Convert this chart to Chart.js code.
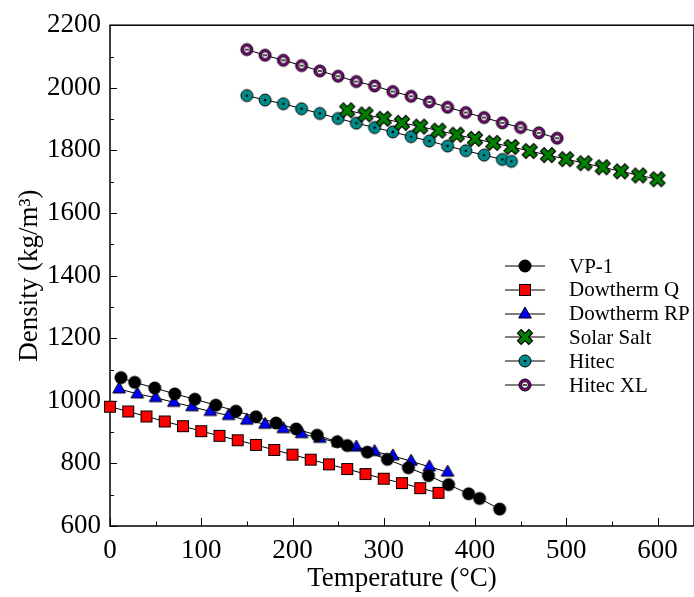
<!DOCTYPE html>
<html>
<head>
<meta charset="utf-8">
<script src="https://cdn.jsdelivr.net/npm/chart.js@4/dist/chart.umd.min.js"></script>
<style>
html, body { margin: 0; padding: 0; background: #fff; }
</style>
</head>
<body>
<canvas id="chart" width="694" height="597"></canvas>
<script>
// values
const vp1Temp = [12, 27, 49, 71, 93, 116, 138, 160, 182, 204, 227, 249, 260, 282, 304, 327, 349, 371, 393, 405, 427];
const vp1Dens = [1074, 1059, 1041, 1022, 1005, 986, 967, 949, 929, 910, 890, 869, 857, 836, 813, 786, 761, 732, 703, 688, 654];

const dowQTemp = [0, 20, 40, 60, 80, 100, 120, 140, 160, 180, 200, 220, 240, 260, 280, 300, 320, 340, 360];
const dowQDens = [981, 966, 950, 934, 919, 903, 888, 874, 859, 843, 828, 812, 797, 782, 766, 751, 737, 721, 706];

const dowRPTemp = [10, 30, 50, 70, 90, 110, 130, 150, 170, 190, 210, 230, 250, 270, 290, 310, 330, 350, 370];
const dowRPDens = [1038, 1022, 1010, 995, 981, 966, 953, 938, 925, 911, 895, 880, 867, 852, 838, 824, 807, 789, 772];

const solarTemp = [260, 280, 300, 320, 340, 360, 380, 400, 420, 440, 460, 480, 500, 520, 540, 560, 580, 600];
const solarDens = [1928, 1915, 1901, 1888, 1876, 1863, 1850, 1837, 1824, 1811, 1798, 1785, 1772, 1759, 1746, 1733, 1720, 1708];

const hitecTemp = [150, 170, 190, 210, 230, 250, 270, 290, 310, 330, 350, 370, 390, 410, 430, 440];
const hitecDens = [1975, 1961, 1949, 1933, 1918, 1902, 1887, 1873, 1859, 1844, 1830, 1814, 1799, 1785, 1771, 1765];

const hitecXLTemp = [150, 170, 190, 210, 230, 250, 270, 290, 310, 330, 350, 370, 390, 410, 430, 450, 470, 490];
const hitecXLDens = [2122, 2104, 2088, 2071, 2054, 2037, 2020, 2006, 1988, 1973, 1955, 1938, 1921, 1905, 1888, 1873, 1856, 1839];

const xTickValues = [0, 100, 200, 300, 400, 500, 600];
const yTickValues = [600, 800, 1000, 1200, 1400, 1600, 1800, 2000, 2200];

const seriesNames = ['VP-1', 'Dowtherm Q', 'Dowtherm RP', 'Solar Salt', 'Hitec', 'Hitec XL'];
const markerKinds = ['circle', 'square', 'triangle', 'cross', 'dotCircle', 'ringDash'];

const serif = 'Liberation Serif';

function drawMarker(ctx, kind, cx, cy) {
    ctx.save();
    ctx.translate(cx, cy);
    ctx.lineWidth = 1;
    ctx.strokeStyle = '#000';
    if (kind === 'circle') {
        ctx.beginPath();
        ctx.arc(0, 0, 6.5, 0, Math.PI * 2);
        ctx.fillStyle = '#000';
        ctx.fill();
    } else if (kind === 'square') {
        ctx.fillStyle = '#ff0000';
        ctx.fillRect(-5.5, -5.5, 11, 11);
        ctx.strokeRect(-5.5, -5.5, 11, 11);
    } else if (kind === 'triangle') {
        ctx.beginPath();
        ctx.moveTo(0, -7);
        ctx.lineTo(6.3, 4);
        ctx.lineTo(-6.3, 4);
        ctx.closePath();
        ctx.fillStyle = '#0000ff';
        ctx.fill();
        ctx.stroke();
    } else if (kind === 'cross') {
        const L = 8, h = 2.6;
        const pts = [[-h, -L], [h, -L], [h, -h], [L, -h], [L, h], [h, h], [h, L], [-h, L], [-h, h], [-L, h], [-L, -h], [-h, -h]];
        ctx.rotate(Math.PI / 4);
        ctx.beginPath();
        pts.forEach((p, i) => i ? ctx.lineTo(p[0], p[1]) : ctx.moveTo(p[0], p[1]));
        ctx.closePath();
        ctx.fillStyle = '#008000';
        ctx.fill();
        ctx.lineWidth = 1.2;
        ctx.stroke();
    } else if (kind === 'dotCircle') {
        ctx.beginPath();
        ctx.arc(0, 0, 6, 0, Math.PI * 2);
        ctx.fillStyle = '#008b8b';
        ctx.fill();
        ctx.stroke();
        ctx.beginPath();
        ctx.arc(0, 0, 1.3, 0, Math.PI * 2);
        ctx.fillStyle = '#000';
        ctx.fill();
    } else if (kind === 'ringDash') {
        ctx.beginPath();
        ctx.arc(0, 0, 6, 0, Math.PI * 2);
        ctx.fillStyle = '#800080';
        ctx.fill();
        ctx.stroke();
        ctx.beginPath();
        ctx.arc(0, 0, 3.4, 0, Math.PI * 2);
        ctx.fillStyle = '#fff';
        ctx.fill();
        ctx.stroke();
        ctx.beginPath();
        ctx.moveTo(-2, 0);
        ctx.lineTo(2, 0);
        ctx.lineWidth = 1.4;
        ctx.stroke();
    }
    ctx.restore();
}

function makeMarkerImage(kind, withLine) {
    const c = document.createElement('canvas');
    c.width = withLine ? 44 : 20;
    c.height = 20;
    const ctx = c.getContext('2d');
    if (withLine) {
        ctx.beginPath();
        ctx.moveTo(2, 10);
        ctx.lineTo(42, 10);
        ctx.strokeStyle = '#000';
        ctx.lineWidth = 1.2;
        ctx.stroke();
    }
    drawMarker(ctx, kind, c.width / 2, 10);
    return c;
}

function pairs(xs, ys) {
    return xs.map((x, i) => ({ x: x, y: ys[i] }));
}

const seriesData = [
    pairs(vp1Temp, vp1Dens),
    pairs(dowQTemp, dowQDens),
    pairs(dowRPTemp, dowRPDens),
    pairs(solarTemp, solarDens),
    pairs(hitecTemp, hitecDens),
    pairs(hitecXLTemp, hitecXLDens)
];

const datasets = seriesNames.map((name, i) => ({
    label: name,
    data: seriesData[i],
    showLine: true,
    borderColor: '#000',
    borderWidth: 1,
    tension: 0,
    pointStyle: makeMarkerImage(markerKinds[i], false),
    pointRadius: 7,
    pointHoverRadius: 7,
    clip: false
}));

// frame, inward ticks (major + minor) and the inset legend
const framePlugin = {
    id: 'frame',
    beforeDatasetsDraw(chart) {
        const { ctx, chartArea: a, scales } = chart;
        ctx.save();
        ctx.strokeStyle = '#000';
        ctx.lineWidth = 1.5;
        ctx.strokeRect(a.left, a.top, a.right - a.left, a.bottom - a.top);
        ctx.lineWidth = 1;
        ctx.beginPath();
        for (let i = 0; i < xTickValues.length; i++) {
            const px = Math.round(scales.x.getPixelForValue(xTickValues[i])) + 0.5;
            ctx.moveTo(px, a.bottom);
            ctx.lineTo(px, a.bottom - 8);
            if (i < xTickValues.length - 1) {
                const mx = Math.round(scales.x.getPixelForValue((xTickValues[i] + xTickValues[i + 1]) / 2)) + 0.5;
                ctx.moveTo(mx, a.bottom);
                ctx.lineTo(mx, a.bottom - 4.5);
            }
        }
        for (let i = 0; i < yTickValues.length; i++) {
            const py = Math.round(scales.y.getPixelForValue(yTickValues[i])) + 0.5;
            ctx.moveTo(a.left, py);
            ctx.lineTo(a.left + 7, py);
            if (i < yTickValues.length - 1) {
                const my = Math.round(scales.y.getPixelForValue((yTickValues[i] + yTickValues[i + 1]) / 2)) + 0.5;
                ctx.moveTo(a.left, my);
                ctx.lineTo(a.left + 4, my);
            }
        }
        ctx.stroke();
        ctx.restore();
    },
    afterDraw(chart) {
        const ctx = chart.ctx;
        ctx.save();
        ctx.font = '21px "' + serif + '"';
        ctx.fillStyle = '#000';
        ctx.textBaseline = 'middle';
        chart.data.datasets.forEach((ds, i) => {
            const y = 266 + i * 23.8;
            ctx.drawImage(makeMarkerImage(markerKinds[i], true), 525 - 22, Math.round(y) - 10);
            ctx.fillText(ds.label, 569, y + 1);
        });
        ctx.restore();
    }
};

new Chart(document.getElementById('chart'), {
    type: 'scatter',
    data: { datasets: datasets },
    plugins: [framePlugin],
    options: {
        responsive: false,
        animation: false,
        layout: { autoPadding: false, padding: { top: 11, left: 0, right: 0, bottom: 0 } },
        plugins: { legend: { display: false }, tooltip: { enabled: false } },
        scales: {
            x: {
                type: 'linear',
                min: 0,
                max: 640,
                afterBuildTicks: s => { s.ticks = xTickValues.map(v => ({ value: v })); },
                afterFit: s => { s.height = 71; },
                grid: { display: false, drawTicks: false },
                border: { display: false },
                ticks: {
                    padding: 9,
                    maxRotation: 0,
                    color: '#000',
                    font: { family: serif, size: 27 },
                    callback: v => String(v)
                },
                title: {
                    display: true,
                    text: 'Temperature (°C)',
                    color: '#000',
                    font: { family: serif, size: 27 },
                    padding: { top: 0, bottom: 2 }
                }
            },
            y: {
                type: 'linear',
                min: 600,
                max: 2200,
                afterBuildTicks: s => { s.ticks = yTickValues.map(v => ({ value: v })); },
                afterFit: s => { s.width = 110; },
                grid: { display: false, drawTicks: false },
                border: { display: false },
                ticks: {
                    padding: 9,
                    color: '#000',
                    font: { family: serif, size: 27 },
                    callback: v => String(v)
                },
                title: {
                    display: true,
                    text: 'Density (kg/m³)',
                    color: '#000',
                    font: { family: serif, size: 27 },
                    padding: { top: 14, bottom: 0 }
                }
            }
        }
    }
});
</script>
</body>
</html>
